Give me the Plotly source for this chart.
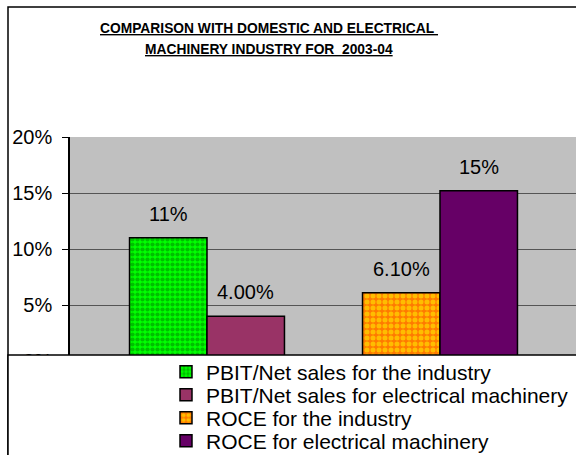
import plotly.graph_objects as go

# ---- data -------------------------------------------------------------
categories = ["PBIT/Net sales", "ROCE"]
series_names = [
    "PBIT/Net sales for the industry",
    "PBIT/Net sales for electrical machinery",
    "ROCE for the industry",
    "ROCE for electrical machinery",
]
series_category = ["PBIT/Net sales", "PBIT/Net sales", "ROCE", "ROCE"]
series_values = [0.11, 0.04, 0.061, 0.152]
label_formats = [".0%", ".2%", ".2%", ".0%"]
y_ticks = [0, 0.05, 0.10, 0.15, 0.20]

# ---- styling ----------------------------------------------------------
FONT = "Liberation Sans, Arial, sans-serif"
W, H = 576, 455
L, R, T, B = 70, 576, 137, 361          # plot area in pixels
BARGAP = 0.335
BAR_W = (1 - BARGAP) / 2
slot = ["a", "b", "a", "b"]
fills = [
    dict(color="#00FF00", pattern=dict(shape=".", fgcolor="#008000", bgcolor="#00FF00",
                                       size=5, solidity=0.55, fillmode="overlay")),
    dict(color="#993366"),
    dict(color="#FF7A00", pattern=dict(shape=".", fgcolor="#FFFF00", bgcolor="#FF7A00",
                                       size=6, solidity=0.55, fillmode="overlay")),
    dict(color="#660066"),
]


def px_x(px):
    return (px - L) / (R - L)


def px_y(py):
    return (B - py) / (B - T)


fig = go.Figure()
legend_ids = ["legend", "legend2", "legend3", "legend4"]
for i, name in enumerate(series_names):
    fig.add_trace(go.Bar(
        x=[series_category[i]], y=[series_values[i]], name=name,
        offsetgroup=slot[i], legend=legend_ids[i],
        marker=dict(line=dict(color="black", width=1.5), **fills[i]),
        hoverinfo="skip",
    ))

# value labels above each bar
for i, v in enumerate(series_values):
    ci = categories.index(series_category[i])
    dx = -BAR_W / 2 if slot[i] == "a" else BAR_W / 2
    fig.add_annotation(
        x=ci + dx, y=v, xref="x", yref="y", yanchor="middle", yshift=24,
        text=format(v, label_formats[i]), showarrow=False,
        font=dict(family=FONT, size=20, color="black"),
    )

# title, two underlined lines
title_lines = ["COMPARISON WITH DOMESTIC AND ELECTRICAL\u00a0",
               "MACHINERY INDUSTRY FOR\u00a0 2003-04"]
for line, py in zip(title_lines, [28, 50]):
    fig.add_annotation(
        x=px_x(269), y=px_y(py), xref="paper", yref="paper",
        xanchor="center", yanchor="middle", showarrow=False,
        text=f"<b>{line}</b>",
        font=dict(family=FONT, size=13.8, color="black", lineposition="under"),
    )

# chart frame and legend box
fig.add_shape(type="rect", xref="paper", yref="paper",
              x0=px_x(8), x1=px_x(W + 5), y0=px_y(H + 5), y1=px_y(7),
              line=dict(color="black", width=1.5), fillcolor="rgba(0,0,0,0)", layer="above")
fig.add_shape(type="rect", xref="paper", yref="paper",
              x0=px_x(8), x1=px_x(W + 5), y0=px_y(H + 5), y1=px_y(355),
              line=dict(color="black", width=1.5), fillcolor="white", layer="above")

legend_rows = [372, 395, 418, 441]
layout_legends = {}
for lid, py in zip(legend_ids, legend_rows):
    layout_legends[lid] = dict(
        x=px_x(166), y=px_y(py), xref="paper", yref="paper",
        xanchor="left", yanchor="middle",
        bgcolor="rgba(0,0,0,0)", borderwidth=0,
        font=dict(family=FONT, size=21, color="black"),
        itemclick=False, itemdoubleclick=False,
    )

fig.update_layout(
    width=W, height=H,
    margin=dict(l=L, r=W - R, t=T, b=H - B, autoexpand=False),
    paper_bgcolor="white", plot_bgcolor="#C0C0C0",
    barmode="group", bargap=BARGAP, bargroupgap=0,
    showlegend=True,
    xaxis=dict(type="category", categoryorder="array", categoryarray=categories,
               range=[-(207 - L) / 233, -(207 - L) / 233 + (R - L) / 233],
               showticklabels=False, showgrid=False, zeroline=False,
               showline=False, fixedrange=True, automargin=False),
    yaxis=dict(range=[0, 0.2], tickvals=y_ticks, tickformat=".0%",
               ticks="outside", ticklen=6, tickcolor="black", tickwidth=1,
               showline=True, linecolor="black", linewidth=1.5,
               showgrid=True, gridcolor="#555555", gridwidth=1,
               zeroline=False, ticklabelstandoff=6, automargin=False,
               tickfont=dict(family=FONT, size=20, color="black"),
               fixedrange=True),
    **layout_legends,
)

fig.write_html("out.html")
